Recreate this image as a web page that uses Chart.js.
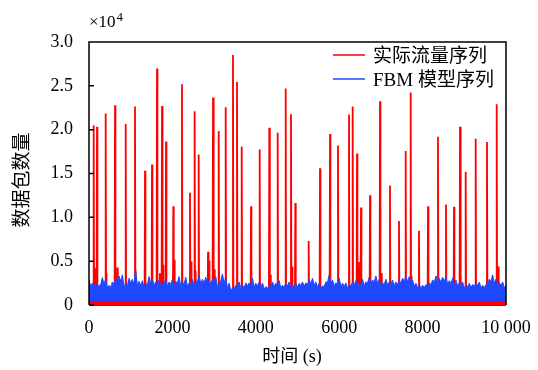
<!DOCTYPE html>
<html>
<head>
<meta charset="utf-8">
<script src="https://cdn.jsdelivr.net/npm/chart.js@4.4.1/dist/chart.umd.min.js"></script>
<style>
  html, body { margin: 0; padding: 0; background: #fff; }
</style>
</head>
<body>
<canvas id="grafico" width="538" height="370"></canvas>
<script>
// picos da serie real (tempo em s, pacotes)
const tempoPicos = [112, 150, 192, 400, 420, 624, 680, 880, 1103, 1343,
  1511, 1631, 1700, 1751, 1775, 1847, 2022, 2050, 2230, 2422,
  2450, 2533, 2560, 2630, 2854, 2880, 2974, 3005, 3110, 3278,
  3453, 3549, 3662, 3885, 4093, 4324, 4350, 4525, 4717, 4844,
  4870, 4948, 5268, 5540, 5780, 5971, 6235, 6323, 6427, 6470,
  6500, 6523, 6739, 6979, 7020, 7218, 7434, 7594, 7714, 7740,
  7913, 8130, 8369, 8561, 8753, 8897, 8920, 9033, 9273, 9544,
  9777, 9815]
const valorPicos = [20500, 4200, 20340, 21830, 3630, 22790, 4270, 20650, 22640, 15300,
  16030, 26990, 3630, 22710, 4580, 18660, 11260, 5150, 25190, 12790,
  4960, 22100, 3900, 17180, 6070, 5070, 23670, 4090, 19840, 22560,
  28510, 25450, 18050, 11260, 17750, 20230, 3440, 19660, 24690, 21760,
  4390, 11640, 7290, 15610, 19500, 18200, 21720, 22640, 17290, 4900,
  3900, 11110, 12520, 23240, 3660, 13630, 9580, 17560, 24240, 3300,
  8470, 11260, 19200, 11450, 11220, 20340, 3440, 15190, 18970, 18580,
  22900, 4390]
const pisoReal = 350

// modelo FBM: topos a cada 80 s e vales entre eles
const passoFbm = 80
const fbmTopo = [2860, 2480, 2520, 2250, 3130, 2940, 2250, 2630, 2940, 3320,
  3440, 2480, 3050, 2940, 4090, 2700, 2780, 2480, 3240, 2940,
  2630, 2860, 2520, 2940, 2630, 2940, 2700, 3240, 2630, 3170,
  2520, 2940, 2780, 3440, 2940, 3170, 2860, 2940, 3240, 2520,
  3550, 3170, 2480, 1910, 2250, 2630, 2250, 2520, 2520, 3050,
  2480, 2630, 2520, 2100, 2250, 2630, 2480, 2780, 2250, 2480,
  2630, 2250, 2480, 2480, 2630, 2520, 2860, 3050, 2630, 2480,
  2180, 2630, 3440, 2860, 2520, 3050, 2480, 2520, 2250, 2630,
  2780, 2520, 2940, 2630, 3170, 2860, 3320, 2940, 2520, 2940,
  2630, 2860, 2630, 2780, 3050, 3320, 3240, 2860, 2480, 2330,
  2250, 2330, 2520, 2860, 3320, 3050, 3170, 3240, 2780, 3050,
  2860, 2520, 2630, 2250, 2480, 2330, 2520, 2630, 2250, 2330,
  2940, 3440, 2940, 2520, 2630, 2250]
const fbmVale = [2150, 2050, 1950, 2300, 2400, 1900, 2000, 2350, 2600, 2700,
  2100, 2200, 2500, 2300, 2200, 2250, 2050, 2300, 2450, 2200,
  2300, 2100, 2400, 2100, 2350, 2200, 2500, 2150, 2400, 2100,
  2350, 2200, 2600, 2400, 2500, 2300, 2450, 2600, 2050, 2700,
  2450, 1950, 1700, 1850, 2100, 1900, 2000, 2200, 2300, 2050,
  2150, 2050, 1800, 1900, 2150, 2100, 2250, 1950, 2050, 2200,
  1950, 2100, 2050, 2200, 2150, 2350, 2450, 2250, 2050, 1900,
  2100, 2600, 2400, 2150, 2300, 2150, 2100, 1950, 2200, 2300,
  2150, 2400, 2200, 2500, 2450, 2600, 2450, 2150, 2350, 2300,
  2400, 2200, 2350, 2500, 2700, 2650, 2450, 2150, 1950, 1900,
  2000, 2150, 2350, 2600, 2550, 2600, 2700, 2400, 2450, 2350,
  2150, 2200, 1950, 2100, 2000, 2150, 2250, 1950, 1950, 2400,
  2700, 2500, 2200, 2250, 1950]
const pisoFbm = 450

const ticksX = [0, 2000, 4000, 6000, 8000, 10000]
const ticksY = [0, 5000, 10000, 15000, 20000, 25000, 30000]

const nomes = ['实际流量序列', 'FBM 模型序列']
const cores = ['#ff0000', '#1f48ff']

// monta os pontos
let real = [{ x: 0, y: pisoReal }]
for (let i = 0; i < tempoPicos.length; i++) {
  real.push({ x: tempoPicos[i] - 10, y: pisoReal })
  real.push({ x: tempoPicos[i], y: valorPicos[i] })
  real.push({ x: tempoPicos[i] + 10, y: pisoReal })
}
real.push({ x: 10000, y: pisoReal })

let fbm = []
for (let i = 0; i < fbmTopo.length; i++) {
  fbm.push({ x: i * passoFbm, y: fbmTopo[i] })
  if (i < fbmVale.length) fbm.push({ x: i * passoFbm + passoFbm / 2, y: fbmVale[i] })
}

const serif = 'Liberation Serif'
const misto = '"Liberation Serif", "Noto Sans CJK SC"'

const moldura = {
  id: 'moldura',
  beforeDatasetsDraw(chart) {
    const { ctx, chartArea: a } = chart
    ctx.save()
    ctx.strokeStyle = '#000'
    ctx.lineWidth = 1.5
    ctx.beginPath()
    ctx.moveTo(a.left, a.bottom)
    ctx.lineTo(a.right, a.bottom)
    ctx.stroke()
    ctx.restore()
  },
  afterDatasetsDraw(chart) {
    const { ctx, chartArea: a, scales } = chart
    ctx.save()
    ctx.strokeStyle = '#000'
    ctx.lineWidth = 1.5
    ctx.beginPath()
    ctx.moveTo(a.left, a.bottom)
    ctx.lineTo(a.left, a.top)
    ctx.lineTo(a.right, a.top)
    ctx.lineTo(a.right, a.bottom)
    ticksY.forEach(v => {
      const py = scales.y.getPixelForValue(v)
      ctx.moveTo(a.left, py)
      ctx.lineTo(a.left + 5, py)
    })
    ctx.stroke()
    ctx.restore()
  },
  afterDraw(chart) {
    const { ctx, chartArea: a } = chart
    ctx.save()
    ctx.fillStyle = '#000'
    // multiplicador do eixo y
    ctx.textBaseline = 'alphabetic'
    ctx.textAlign = 'left'
    ctx.font = '17px ' + serif
    ctx.fillText('×10', a.left, 27)
    const w = ctx.measureText('×10').width
    ctx.font = '13px ' + serif
    ctx.fillText('4', a.left + w + 1, 21)

    // titulos dos eixos
    ctx.textBaseline = 'middle'
    ctx.textAlign = 'center'
    ctx.font = '18px ' + misto
    ctx.fillText('时间 (s)', 292, 357)
    ctx.save()
    ctx.translate(21, 180)
    ctx.rotate(-Math.PI / 2)
    ctx.font = '19px "Noto Sans CJK SC"'
    ctx.fillText('数据包数量', 0, 0)
    ctx.restore()

    // legenda
    ctx.textAlign = 'left'
    ctx.font = '19px ' + misto
    const linhas = [55, 79]
    chart.data.datasets.forEach((d, i) => {
      ctx.strokeStyle = d.borderColor
      ctx.lineWidth = 1.5
      ctx.beginPath()
      ctx.moveTo(333, linhas[i])
      ctx.lineTo(365, linhas[i])
      ctx.stroke()
      ctx.fillStyle = '#000'
      ctx.fillText(d.label, 373, linhas[i] + 2)
    })
    ctx.restore()
  }
}

const ctx = document.getElementById('grafico').getContext('2d')

const meuGrafico = new Chart(ctx, {
  type: 'line',
  data: {
    datasets: [{
      label: nomes[0],
      data: real,
      borderColor: cores[0],
      backgroundColor: cores[0],
      borderWidth: 1.8,
      pointRadius: 0,
      fill: 'origin',
      order: 2
    }, {
      label: nomes[1],
      data: fbm,
      borderColor: cores[1],
      backgroundColor: cores[1],
      borderWidth: 1,
      pointRadius: 0,
      fill: { value: pisoFbm },
      order: 1
    }]
  },
  options: {
    responsive: false,
    animation: false,
    layout: { padding: { left: 4, top: 42, right: 32, bottom: 0 } },
    plugins: {
      legend: { display: false },
      tooltip: { enabled: false }
    },
    scales: {
      x: {
        type: 'linear',
        min: 0,
        max: 10000,
        afterFit: s => {
          s.height = 65
          s.paddingLeft = 0
          s.paddingRight = 0
        },
        afterBuildTicks: s => { s.ticks = ticksX.map(v => ({ value: v })) },
        grid: { display: false, drawTicks: false },
        border: { display: false },
        ticks: {
          padding: 12,
          color: '#000',
          font: { family: serif, size: 18 },
          maxRotation: 0,
          callback: v => v === 10000 ? '10 000' : String(v)
        }
      },
      y: {
        min: 0,
        max: 30000,
        afterFit: s => {
          s.width = 85
          s.paddingTop = 0
          s.paddingBottom = 0
        },
        afterBuildTicks: s => { s.ticks = ticksY.map(v => ({ value: v })) },
        grid: { display: false, drawTicks: false },
        border: { display: false },
        ticks: {
          padding: 16,
          color: '#000',
          font: { family: serif, size: 18 },
          callback: v => v === 0 ? '0' : (v / 10000).toFixed(1)
        }
      }
    }
  },
  plugins: [moldura]
})
</script>
</body>
</html>
